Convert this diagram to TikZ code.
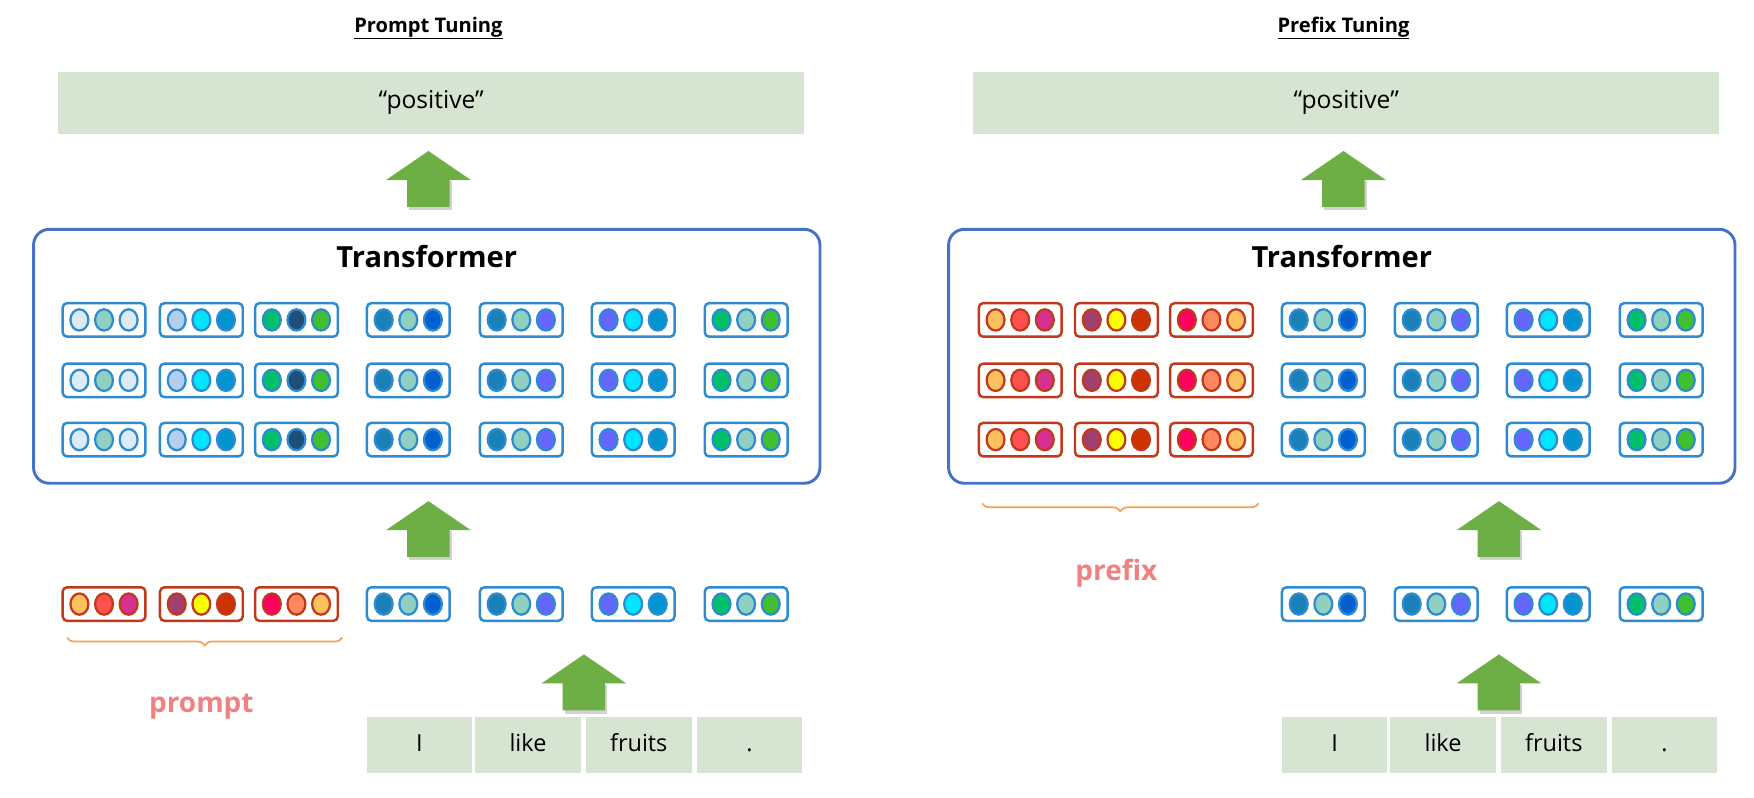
\documentclass[tikz,border=0pt]{standalone}
\usepackage{fontspec}
\setmainfont{Open Sans}
\usetikzlibrary{decorations.pathreplacing,shapes.geometric}
\definecolor{tb}{HTML}{2E8BD0}\definecolor{tr}{HTML}{C0391B}
\definecolor{gbox}{HTML}{D6E4D2}\definecolor{tfb}{HTML}{4472C4}
\definecolor{garr}{HTML}{6DAF45}\definecolor{pink}{HTML}{F28080}
\definecolor{brc}{HTML}{F4A050}
\definecolor{a1}{HTML}{DDEBF7}\definecolor{a2}{HTML}{8FD0C0}\definecolor{a3}{HTML}{B4CFEE}
\definecolor{a4}{HTML}{00E5FF}\definecolor{a5}{HTML}{0095D0}\definecolor{a6}{HTML}{00C06A}
\definecolor{a7}{HTML}{1F4E79}\definecolor{a8}{HTML}{40C030}\definecolor{a9}{HTML}{1A80B8}
\definecolor{b1}{HTML}{0060D0}\definecolor{b2}{HTML}{6666FF}
\definecolor{r1}{HTML}{FFC060}\definecolor{r2}{HTML}{FF5050}\definecolor{r3}{HTML}{D63090}
\definecolor{r4}{HTML}{A04070}\definecolor{r5}{HTML}{FFFF00}\definecolor{r6}{HTML}{CC3300}
\definecolor{r7}{HTML}{FF0060}\definecolor{r8}{HTML}{FF8860}
\tikzset{x=1pt,y=-1pt,
 tok/.style={draw=#1,line width=2.2pt,rounded corners=4pt,minimum width=74pt,minimum height=30pt,inner sep=0pt,fill=white},
 dot/.style={ellipse,draw=#1,line width=2pt,minimum width=16pt,minimum height=19pt,inner sep=0pt},
 gb/.style={fill=gbox,inner sep=0pt},
 cell/.style={gb,minimum width=96pt,minimum height=52pt,text height=15pt,text depth=4pt,font=\fontsize{21}{21}\selectfont},
 brace/.style={draw=brc,line width=1.5pt,decorate,decoration={brace,mirror,amplitude=7pt}},
 lbl/.style={text=pink,font=\bfseries\fontsize{25}{25}\selectfont}}
\newcommand{\tk}[7]{%
 \node[tok=#4] (#1) at (#2,#3) {};
 \node[dot=#4,fill=#5] (#1a) at ([xshift=-22pt]#1.center) {};
 \node[dot=#4,fill=#6] (#1b) at (#1.center) {};
 \node[dot=#4,fill=#7] (#1c) at ([xshift=22pt]#1.center) {};}
\newcommand{\garrow}[3]{%
 \fill[black!35,opacity=.5] (#2-17,#3+27) rectangle (#2+21,#3+53);
 \fill[garr] (#2,#3) -- (#2+38,#3+26) -- (#2+19,#3+26) -- (#2+19,#3+50) -- (#2-19,#3+50) -- (#2-19,#3+26) -- (#2-38,#3+26) -- cycle;
 \coordinate (#1) at (#2,#3+25);}
\begin{document}
\begin{tikzpicture}
\useasboundingbox (0,0) rectangle (1568,712.5);
\foreach \P/\off/\title in {L/0/Prompt Tuning,R/818/Prefix Tuning}{
 \node[font=\bfseries\fontsize{18}{18}\selectfont] (\P title) at (383+\off,25) {\underline{\title}};
 \node[gb,minimum width=667pt,minimum height=56pt,font=\fontsize{22}{22}\selectfont] (\P out) at (385.5+\off,92) {“positive”};
 \garrow{\P a1}{383+\off}{135}
 \node[draw=tfb,line width=2.6pt,rounded corners=14pt,minimum width=703pt,minimum height=227pt] (\P tf) at (381.5+\off,318.5) {};
 \node[font=\bfseries\fontsize{26}{26}\selectfont] (\P tft) at (381.5+\off,229) {Transformer};
 \foreach \w/\xx [count=\i] in {I/375,like/472,fruits/571,./670}{
   \node[cell,draw=white,line width=1.5pt] (\P w\i) at (\xx+\off,666) {\w};}
 \garrow{\P a3}{\ifnum\off=0 522\else 1340\fi}{585}
 \garrow{\P a2}{\ifnum\off=0 383\else 1340\fi}{448}
}
\foreach \y [count=\r] in {286,340,393}{
 \tk{La\r}{93}{\y}{tb}{a1}{a2}{a1}
 \tk{Lb\r}{180}{\y}{tb}{a3}{a4}{a5}
 \tk{Lc\r}{265}{\y}{tb}{a6}{a7}{a8}
 \tk{Ra\r}{912}{\y}{tr}{r1}{r2}{r3}
 \tk{Rb\r}{998}{\y}{tr}{r4}{r5}{r6}
 \tk{Rc\r}{1083}{\y}{tr}{r7}{r8}{r1}
 \foreach \o/\s in {0/L,818/R}{
  \tk{\s d\r}{365+\o}{\y}{tb}{a9}{a2}{b1}
  \tk{\s e\r}{466+\o}{\y}{tb}{a9}{a2}{b2}
  \tk{\s f\r}{566+\o}{\y}{tb}{b2}{a4}{a5}
  \tk{\s g\r}{667+\o}{\y}{tb}{a6}{a2}{a8}}
}
\tk{Lpa}{93}{540}{tr}{r1}{r2}{r3}
\tk{Lpb}{180}{540}{tr}{r4}{r5}{r6}
\tk{Lpc}{265}{540}{tr}{r7}{r8}{r1}
\foreach \o/\s in {0/L,818/R}{
 \tk{\s pd}{365+\o}{540}{tb}{a9}{a2}{b1}
 \tk{\s pe}{466+\o}{540}{tb}{a9}{a2}{b2}
 \tk{\s pf}{566+\o}{540}{tb}{b2}{a4}{a5}
 \tk{\s pg}{667+\o}{540}{tb}{a6}{a2}{a8}}
\coordinate (lb1) at (60,570); \coordinate (lb2) at (306,570);
\draw[brace] (lb1) -- (lb2);
\node[lbl] (prompt) at (180,632) {prompt};
\coordinate (rb1) at (878,450); \coordinate (rb2) at (1125,450);
\draw[brace] (rb1) -- (rb2);
\node[lbl] (prefix) at (998,512) {prefix};
\end{tikzpicture}
\end{document}
